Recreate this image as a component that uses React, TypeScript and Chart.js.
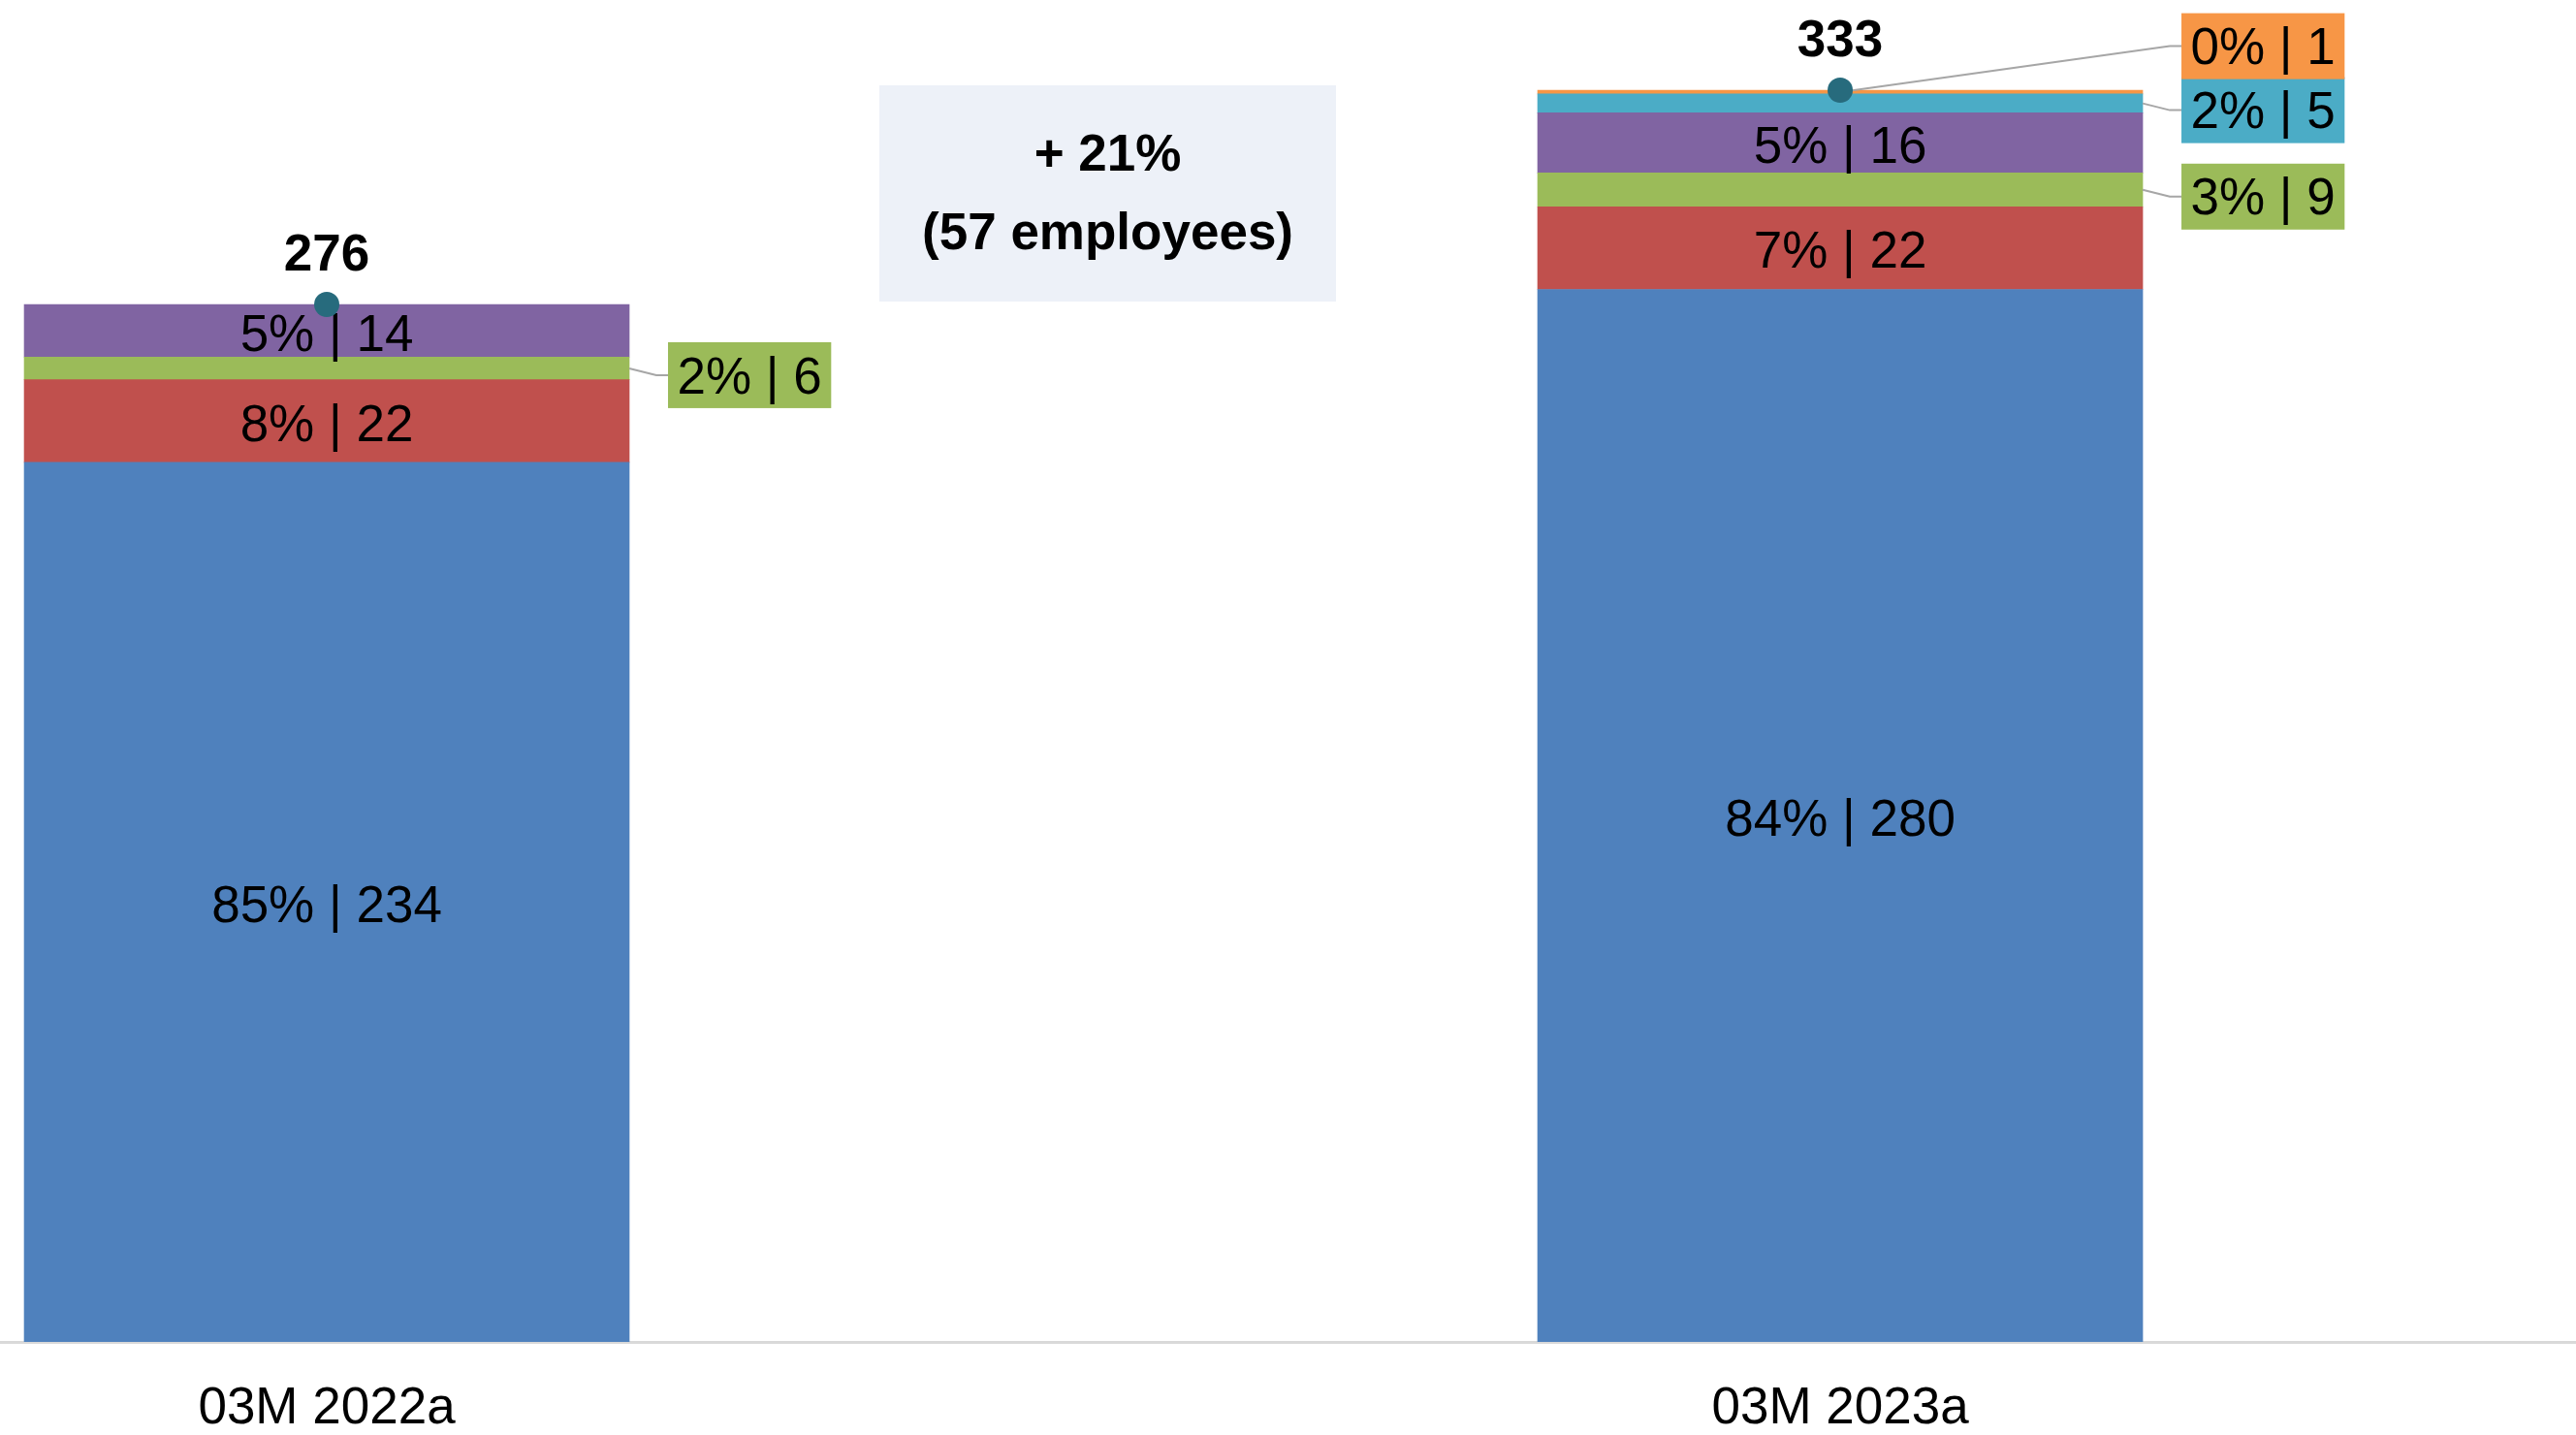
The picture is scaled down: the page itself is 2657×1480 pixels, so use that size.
import React, { useEffect, useRef } from 'react';
import { Chart, registerables } from 'chart.js';

Chart.register(...registerables);

// ---- data ----
const categories = ['03M 2022a', '03M 2023a'];
const blueValues: (number | null)[] = [234, 280];
const redValues: (number | null)[] = [22, 22];
const greenValues: (number | null)[] = [6, 9];
const purpleValues: (number | null)[] = [14, 16];
const cyanValues: (number | null)[] = [null, 5];
const orangeValues: (number | null)[] = [null, 1];

const FONT = '"Liberation Sans", Arial, Helvetica, sans-serif';
const W = 2657;
const H = 1480;

const series = [
  { key: 'blue', values: blueValues, color: '#4F81BD' },
  { key: 'red', values: redValues, color: '#C0504D' },
  { key: 'green', values: greenValues, color: '#9BBB59' },
  { key: 'purple', values: purpleValues, color: '#8064A2' },
  { key: 'cyan', values: cyanValues, color: '#4BACC6' },
  { key: 'orange', values: orangeValues, color: '#F79646' },
];

export default function App() {
  const ref = useRef<HTMLCanvasElement>(null);

  useEffect(() => {
    const canvas = ref.current;
    if (!canvas) return;

    const labelPlugin = {
      id: 'customLabels',
      afterDatasetsDraw(chart: any) {
        const ctx = chart.ctx as CanvasRenderingContext2D;
        const xScale = chart.scales.x;
        const yScale = chart.scales.y;
        const totals = categories.map((_, j) =>
          series.reduce((s, ser) => s + (ser.values[j] ?? 0), 0)
        );
        const barX = categories.map((_, j) => xScale.getPixelForValue(j));
        const barTop = totals.map((t) => yScale.getPixelForValue(t));

        ctx.save();

        // difference box
        const diff = totals[1] - totals[0];
        const pct = Math.round((diff / totals[0]) * 100);
        const boxCx = (barX[0] + barX[1]) / 2 + 25;
        const boxW = 471;
        const boxTop = barTop[1] - 5;
        const boxBottom = barTop[0] - 3;
        ctx.fillStyle = '#EDF1F8';
        ctx.fillRect(boxCx - boxW / 2, boxTop, boxW, boxBottom - boxTop);
        const boxMid = (boxTop + boxBottom) / 2;
        ctx.fillStyle = '#000';
        ctx.font = `bold 53px ${FONT}`;
        ctx.textAlign = 'center';
        ctx.textBaseline = 'middle';
        ctx.fillText(`+ ${pct}%`, boxCx, boxMid - 38);
        ctx.fillText(`(${diff} employees)`, boxCx, boxMid + 43);

        categories.forEach((_, j) => {
          const callouts: any[] = [];
          series.forEach((ser, i) => {
            const v = ser.values[j];
            if (v == null || v === 0) return;
            const el = chart.getDatasetMeta(i).data[j];
            if (!el) return;
            const p = el.getProps(['x', 'y', 'base', 'width'], true);
            const top = Math.min(p.y, p.base);
            const bottom = Math.max(p.y, p.base);
            const mid = (top + bottom) / 2;
            const right = p.x + p.width / 2;
            const text = `${Math.round((v / totals[j]) * 100)}% | ${v}`;
            if (bottom - top >= 45) {
              ctx.font = `53px ${FONT}`;
              ctx.fillStyle = '#000';
              ctx.textAlign = 'center';
              ctx.textBaseline = 'middle';
              ctx.fillText(text, p.x, mid + 6);
            } else {
              const small = bottom - top < 8;
              callouts.push({
                text,
                color: ser.color,
                desired: mid + 7,
                ax: small ? p.x : right,
                ay: mid,
                right,
              });
            }
          });

          // resolve callout positions bottom to top
          const bh = 68;
          callouts.sort((a, b) => b.desired - a.desired);
          let limit = Infinity;
          callouts.forEach((c) => {
            c.cy = Math.min(c.desired, limit - bh / 2 + 2);
            limit = c.cy - bh / 2;
          });

          callouts.forEach((c) => {
            ctx.font = `53px ${FONT}`;
            const tw = ctx.measureText(c.text).width;
            const bw = tw + 19;
            const bx = c.right + 40;
            // leader
            ctx.strokeStyle = '#A6A6A6';
            ctx.lineWidth = 2;
            ctx.beginPath();
            ctx.moveTo(c.ax, c.ay);
            ctx.lineTo(bx - 12, c.cy);
            ctx.lineTo(bx, c.cy);
            ctx.stroke();
            // box
            ctx.fillStyle = c.color;
            ctx.fillRect(bx, c.cy - bh / 2, bw, bh);
            ctx.fillStyle = '#000';
            ctx.textAlign = 'center';
            ctx.textBaseline = 'middle';
            ctx.fillText(c.text, bx + bw / 2, c.cy + 4);
          });

          // dot + total
          ctx.fillStyle = '#276B7D';
          ctx.beginPath();
          ctx.arc(barX[j], barTop[j], 13, 0, Math.PI * 2);
          ctx.fill();
          ctx.fillStyle = '#000';
          ctx.font = `bold 53px ${FONT}`;
          ctx.textAlign = 'center';
          ctx.textBaseline = 'middle';
          ctx.fillText(String(totals[j]), barX[j], barTop[j] - 50);
        });

        ctx.restore();
      },
    };

    const chart = new Chart(canvas, {
      type: 'bar',
      data: {
        datasets: series.map((ser) => ({
          label: ser.key,
          data: ser.values.map((v, i) => ({ x: i, y: v })) as any,
          backgroundColor: ser.color,
          borderWidth: 0,
          barThickness: 624,
        })),
      },
      options: {
        responsive: false,
        maintainAspectRatio: false,
        animation: false,
        devicePixelRatio: 1,
        layout: { padding: 0 },
        plugins: {
          legend: { display: false },
          tooltip: { enabled: false },
          title: { display: false },
        },
        scales: {
          x: {
            type: 'linear',
            stacked: true,
            offset: false,
            min: -0.2159,
            max: 1.4862,
            grid: { display: false, drawTicks: false, offset: false },
            border: { display: true, color: '#D9D9D9', width: 3 },
            afterBuildTicks: (scale: any) => {
              scale.ticks = categories.map((_, i) => ({ value: i }));
            },
            afterFit: (scale: any) => {
              scale.height = 96;
            },
            ticks: {
              autoSkip: false,
              maxRotation: 0,
              padding: 38,
              color: '#000',
              font: { family: FONT, size: 53, lineHeight: 1.2 },
              callback: (value: any) => categories[value as number] ?? '',
            },
          },
          y: {
            display: false,
            stacked: true,
            min: 0,
            max: 357,
          },
        },
      },
      plugins: [labelPlugin],
    } as any);

    return () => chart.destroy();
  }, []);

  return (
    <div style={{ position: 'absolute', left: 0, top: 0, width: W, height: H, background: '#fff' }}>
      <canvas ref={ref} width={W} height={H} style={{ display: 'block' }} />
    </div>
  );
}
